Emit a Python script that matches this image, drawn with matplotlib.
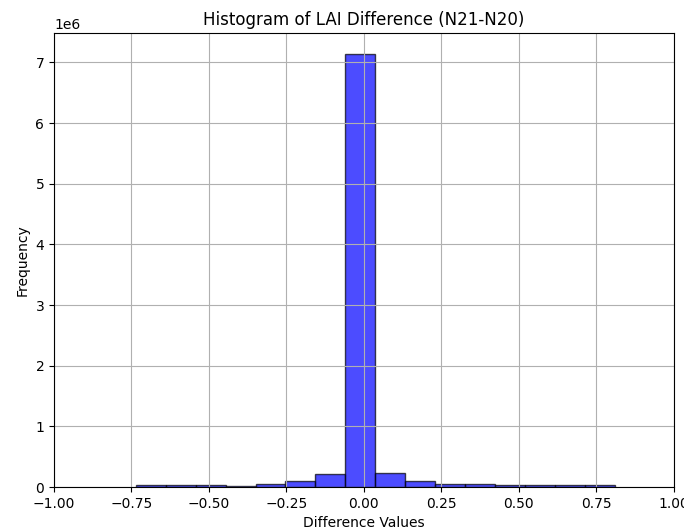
import numpy as np
import matplotlib
matplotlib.use("Agg")
import matplotlib.pyplot as plt

# Histogram bin edges (16 bins) and counts
bin_min = -0.736
bin_max = 0.809
n_bins = 16
counts = [33000, 27000, 27000, 22000, 55000, 98000, 208000, 7130000,
          235000, 93000, 49000, 49000, 27000, 27000, 27000, 27000]

edges = np.linspace(bin_min, bin_max, n_bins + 1)
centers = (edges[:-1] + edges[1:]) / 2

fig = plt.figure(figsize=(6.84, 5.30), dpi=100)
ax = fig.add_axes([0.079, 0.081, 0.906, 0.857])
ax.hist(centers, bins=edges, weights=counts, color='blue', alpha=0.7, edgecolor='black')
ax.set_xlim(-1, 1)
ax.set_title('Histogram of LAI Difference (N21-N20)')
ax.set_xlabel('Difference Values')
ax.set_ylabel('Frequency')
ax.grid(True)
fig.savefig('out.png', dpi=100)
